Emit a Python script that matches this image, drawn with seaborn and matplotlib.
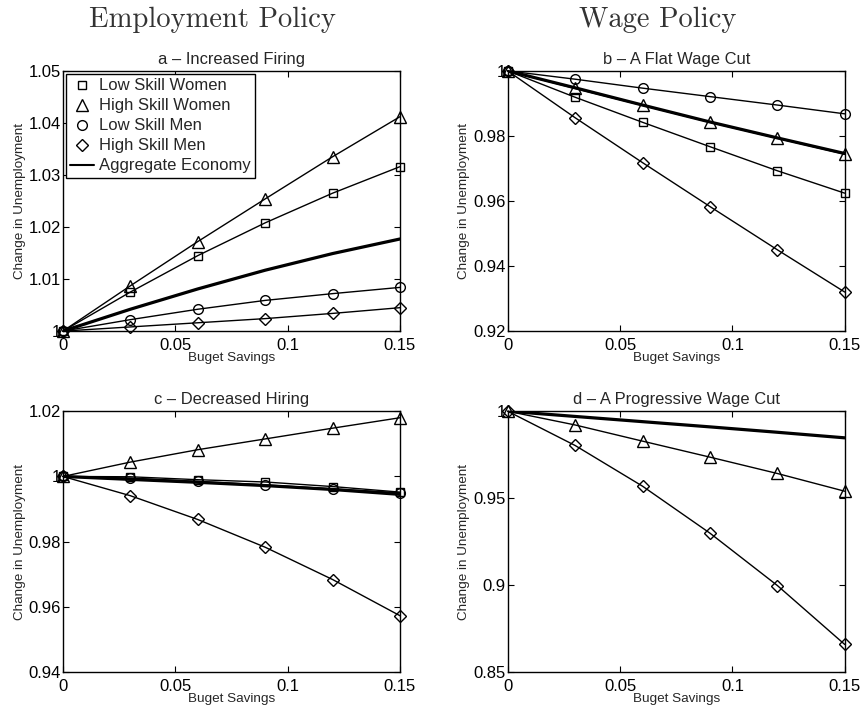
import matplotlib
matplotlib.use("Agg")
import matplotlib.pyplot as plt
from matplotlib.lines import Line2D
from matplotlib.ticker import FuncFormatter
import numpy as np
import pandas as pd
import seaborn as sns

# budget savings grid (x axis)
savings = [0, 0.03, 0.06, 0.09, 0.12, 0.15]

# a - increased firing
a_low_women = [1.0, 1.0075, 1.0145, 1.0208, 1.0265, 1.0316]
a_high_women = [1.0, 1.0087, 1.0172, 1.0254, 1.0335, 1.0412]
a_low_men = [1.0, 1.0022, 1.0042, 1.0059, 1.0072, 1.0084]
a_high_men = [1.0, 1.0008, 1.0016, 1.0024, 1.0034, 1.0045]
a_aggregate = [1.0, 1.0042, 1.0081, 1.0117, 1.0149, 1.0177]

# b - a flat wage cut
b_low_women = [1.0, 0.9919, 0.9842, 0.9767, 0.9693, 0.9624]
b_high_women = [1.0, 0.9946, 0.9894, 0.9842, 0.9793, 0.9744]
b_low_men = [1.0, 0.99745, 0.9947, 0.9921, 0.9895, 0.9868]
b_high_men = [1.0, 0.9856, 0.9718, 0.9583, 0.9450, 0.9320]
b_aggregate = [1.0, 0.9948, 0.9895, 0.9843, 0.9794, 0.9746]

# c - decreased hiring
c_low_women = [1.0, 0.9999, 0.9990, 0.9983, 0.9969, 0.9952]
c_high_women = [1.0, 1.0044, 1.0082, 1.0115, 1.0148, 1.0180]
c_low_men = [1.0, 0.9995, 0.9985, 0.9974, 0.9962, 0.9950]
c_high_men = [1.0, 0.9941, 0.9868, 0.9783, 0.9684, 0.9573]
c_aggregate = [1.0, 0.9991, 0.9982, 0.9972, 0.9960, 0.9945]

# d - a progressive wage cut (low skill series lie outside the shown range)
d_high_women = [1.0, 0.9921, 0.9828, 0.9736, 0.9642, 0.9540]
d_high_men = [1.0, 0.9803, 0.9569, 0.9299, 0.8998, 0.8659]
d_aggregate = [1.0, 0.9970, 0.9940, 0.9910, 0.9879, 0.9847]

group_names = ["Low Skill Women", "High Skill Women", "Low Skill Men", "High Skill Men"]
group_markers = ["s", "^", "o", "D"]
group_sizes = [5.5, 8, 7, 6]

panels = [
    ("a \u2013 Increased Firing", [a_low_women, a_high_women, a_low_men, a_high_men], a_aggregate,
     [1.0, 1.01, 1.02, 1.03, 1.04, 1.05]),
    ("b \u2013 A Flat Wage Cut", [b_low_women, b_high_women, b_low_men, b_high_men], b_aggregate,
     [0.92, 0.94, 0.96, 0.98, 1.0]),
    ("c \u2013 Decreased Hiring", [c_low_women, c_high_women, c_low_men, c_high_men], c_aggregate,
     [0.94, 0.96, 0.98, 1.0, 1.02]),
    ("d \u2013 A Progressive Wage Cut", [None, d_high_women, None, d_high_men], d_aggregate,
     [0.85, 0.9, 0.95, 1.0]),
]

sns.set_style("ticks")
plt.rcParams["font.family"] = ["Liberation Sans", "DejaVu Sans"]

fig = plt.figure(figsize=(8.62, 7.09), dpi=100)
positions = [
    [0.073, 0.533, 0.391, 0.367],
    [0.589, 0.533, 0.391, 0.367],
    [0.073, 0.052, 0.391, 0.368],
    [0.589, 0.052, 0.391, 0.368],
]

fmt = FuncFormatter(lambda v, p: "%g" % round(v, 4))

for pos, (title, groups, agg, yticks) in zip(positions, panels):
    ax = fig.add_axes(pos)
    # aggregate economy: thick line, no markers
    sns.lineplot(x=savings, y=agg, ax=ax, color="black", linewidth=2.3, zorder=3)
    for vals, m, ms in zip(groups, group_markers, group_sizes):
        if vals is None:
            continue
        sns.lineplot(x=savings, y=vals, ax=ax, color="black", linewidth=1.0,
                     marker=m, markersize=ms, markerfacecolor="none",
                     markeredgecolor="black", markeredgewidth=1.0,
                     clip_on=False, zorder=4)
    ax.set_xlim(0, 0.15)
    ax.set_ylim(yticks[0], yticks[-1])
    ax.set_xticks([0, 0.05, 0.1, 0.15])
    ax.set_yticks(yticks)
    ax.xaxis.set_major_formatter(fmt)
    ax.yaxis.set_major_formatter(fmt)
    ax.tick_params(direction="in", top=True, right=True, length=4, width=0.8,
                   labelsize=12, colors="black")
    ax.tick_params(axis="x", pad=5)
    ax.tick_params(axis="y", pad=1.5)
    for s in ax.spines.values():
        s.set_visible(True)
        s.set_color("black")
        s.set_linewidth(1.0)
    ax.set_title(title, fontsize=11.9, pad=5)
    ax.set_xlabel("Buget Savings", fontsize=9.7, labelpad=-1)
    ax.set_ylabel("Change in Unemployment", fontsize=9.7, labelpad=2)
    if title.startswith("a"):
        handles = [Line2D([], [], linestyle="none", marker=m, markersize=ms,
                          markerfacecolor="none", markeredgecolor="black")
                   for m, ms in zip(group_markers, group_sizes)]
        handles.append(Line2D([], [], color="black", linewidth=1.5))
        leg = ax.legend(handles, group_names + ["Aggregate Economy"], loc="upper left",
                        fontsize=12, frameon=True, fancybox=False, framealpha=1,
                        edgecolor="black", borderpad=0.25, labelspacing=0.3,
                        handlelength=1.4, handletextpad=0.3, borderaxespad=0.2)
        leg.get_frame().set_linewidth(1.0)

fig.text(0.247, 0.972, "Employment Policy", fontsize=20.6, family="cmr10",
         ha="center", va="center", color="#333333")
fig.text(0.763, 0.972, "Wage Policy", fontsize=20.6, family="cmr10",
         ha="center", va="center", color="#333333")

fig.savefig("out.png", dpi=100, facecolor="white")
